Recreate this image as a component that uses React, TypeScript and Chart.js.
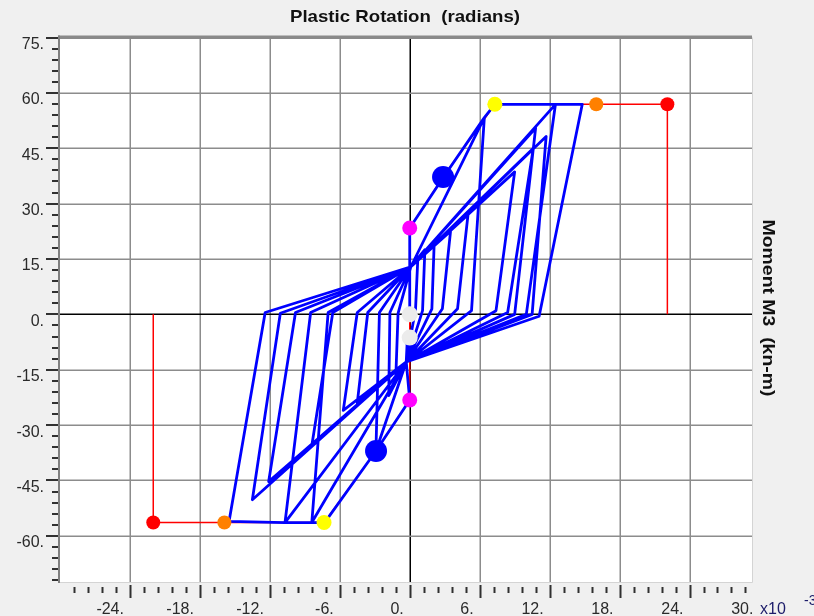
import { useEffect, useRef } from "react";
import { Chart, registerables } from "chart.js";

Chart.register(...registerables);

// ---- axis tick labels ----
const xTickValues = [-24, -18, -12, -6, 0, 6, 12, 18, 24, 30];
const xTickLabels = ["-24.", "-18.", "-12.", "-6.", "0.", "6.", "12.", "18.", "24.", "30."];
const yTickValues = [75, 60, 45, 30, 15, 0, -15, -30, -45, -60];
const yTickLabels = ["75.", "60.", "45.", "30.", "15.", "0.", "-15.", "-30.", "-45.", "-60."];

// ---- hysteresis (rotation x10^-3 rad, moment kN-m) ----
const upperPivot = [0.1, 12.9];
const lowerPivot = [-0.3, -12.9];

const cycle1 = [[0, 0], [0, 23.4], [2.9, 37.2], [6.4, 53.3], [5.3, 1.0], lowerPivot, [0, -23.2], [-2.9, -37.0], [-2.6, 0.5]];
const cycle2 = [upperPivot, [3.5, 22.5], [2.8, 1.5], lowerPivot, [-1.8, -22.0], [-1.7, 0.5]];
const cycle3 = [upperPivot, [2.1, 19.5], [1.9, 1.5], lowerPivot, [-4.5, -24.0], [-3.6, 0.5]];
const cycle4 = [upperPivot, [6.4, 53.3], [7.3, 56.9], [12.5, 56.9], [10.0, 0], lowerPivot, [-2.9, -37.0], [-7.3, -56.4], [-10.7, -56.4], [-8.5, 0.5]];
const cycle5 = [upperPivot, [5.0, 27.0], [4.1, 1.5], lowerPivot, [-5.7, -26.0], [-4.5, 0.5]];
const cycle6 = [upperPivot, [9.0, 38.6], [7.4, 1.0], lowerPivot, [-8.4, -35.5], [-6.6, 0.5]];
const cycle7 = [upperPivot, [12.5, 56.9], [14.8, 56.9], [11.1, -0.5], lowerPivot, [-10.7, -56.4], [-15.5, -56.1], [-12.4, 0.5]];
const cycle8 = [upperPivot, [11.7, 48.2], [10.5, 0], lowerPivot, [-13.5, -50.2], [-11.1, 0.3]];
const cycle9 = [upperPivot, [10.6, 45.0], [8.4, 0.5], lowerPivot, [-12.1, -45.3], [-9.8, 0.5]];
const cycle10 = [upperPivot, [10.8, 50.5], [9.0, 0], lowerPivot, [-8.4, -56.4], [-7.0, 0.5]];
const cycle11 = [upperPivot, [1.3, 17.5], [1.1, 1.0], lowerPivot, [-1.2, -17.5], [-1.0, 0.3]];
const cycle12 = [upperPivot, [0.7, 15.5], [0.5, 1.5], lowerPivot, [-0.2, -6.3]];
const cycles = [cycle1, cycle2, cycle3, cycle4, cycle5, cycle6, cycle7, cycle8, cycle9, cycle10, cycle11, cycle12];

// ---- backbone (hinge definition) ----
const backbonePosRot = [0, 0, 2.86, 7.3, 16.0, 22.1, 22.1];
const backbonePosMom = [0, 23.4, 37.2, 56.9, 56.9, 56.9, 0];
const backboneNegRot = [0, 0, -2.89, -7.35, -15.9, -22.0, -22.0];
const backboneNegMom = [0, -23.2, -37.0, -56.4, -56.4, -56.4, 0];

// ---- hinge state points ----
const markerRot = [22.1, -22.0, 16.0, -15.9, 7.3, -7.35, 2.86, -2.89, 0, 0, 0, 0];
const markerMom = [56.9, -56.4, 56.9, -56.4, 56.9, -56.4, 37.2, -37.0, 23.4, -23.2, 0, -6.3];
const markerColors = ["#ff0000", "#ff0000", "#ff8000", "#ff8000", "#ffff00", "#ffff00", "#0000ff", "#0000ff", "#ff00ff", "#ff00ff", "#ebebeb", "#ebebeb"];
const markerRadius = [7, 7, 7, 7, 7.5, 7.5, 11, 11, 7.5, 7.5, 8, 8];

const FONT = "'Liberation Sans', Arial, sans-serif";

function fitText(ctx: CanvasRenderingContext2D, text: string, x: number, y: number, w: number, rot = 0) {
  const m = ctx.measureText(text).width;
  ctx.save();
  ctx.translate(x, y);
  if (rot) ctx.rotate(rot);
  ctx.scale(w / m, 1);
  ctx.fillText(text, 0, 0);
  ctx.restore();
}

const axesPlugin = {
  id: "sapAxes",
  beforeDraw(chart: any) {
    const { ctx, chartArea: a } = chart;
    ctx.save();
    ctx.fillStyle = "#f0f0f0";
    ctx.fillRect(0, 0, chart.width, chart.height);
    ctx.fillStyle = "#ffffff";
    ctx.fillRect(a.left, a.top, a.right - a.left, a.bottom - a.top);
    ctx.restore();
  },
  beforeDatasetsDraw(chart: any) {
    const { ctx, chartArea: a, scales } = chart;
    const xs = scales.x;
    const ys = scales.y;
    ctx.save();
    ctx.lineWidth = 1.5;
    for (let v = -24; v <= 24; v += 6) {
      const px = Math.round(xs.getPixelForValue(v)) + 0.25;
      ctx.strokeStyle = v === 0 ? "#000000" : "#8c8c8c";
      ctx.beginPath();
      ctx.moveTo(px, a.top);
      ctx.lineTo(px, a.bottom);
      ctx.stroke();
    }
    for (let v = -60; v <= 60; v += 15) {
      const py = Math.round(ys.getPixelForValue(v)) + 0.25;
      ctx.strokeStyle = v === 0 ? "#000000" : "#8c8c8c";
      ctx.beginPath();
      ctx.moveTo(a.left, py);
      ctx.lineTo(a.right, py);
      ctx.stroke();
    }
    ctx.strokeStyle = "#d4d4d4";
    ctx.lineWidth = 1;
    ctx.beginPath();
    ctx.moveTo(a.right + 0.5, a.top);
    ctx.lineTo(a.right + 0.5, a.bottom + 0.5);
    ctx.lineTo(a.left, a.bottom + 0.5);
    ctx.stroke();
    ctx.fillStyle = "#8a8a8a";
    ctx.fillRect(a.left - 2, a.top - 2, a.right - a.left + 2, 3.5);
    ctx.fillStyle = "#808080";
    ctx.fillRect(a.left - 2, a.top - 2, 2, a.bottom - a.top + 3);
    ctx.restore();
  },
  afterDraw(chart: any) {
    const { ctx, chartArea: a, scales } = chart;
    const xs = scales.x;
    const ys = scales.y;
    ctx.save();
    ctx.strokeStyle = "#303030";
    ctx.lineWidth = 2;
    for (let v = -72; v <= 75; v += 3) {
      const py = Math.round(ys.getPixelForValue(v));
      const major = v % 15 === 0;
      ctx.beginPath();
      ctx.moveTo(major ? a.left - 14 : a.left - 8, py);
      ctx.lineTo(a.left - 2, py);
      ctx.stroke();
    }
    for (let k = -24; k <= 24; k++) {
      const v = k * 1.2;
      const px = Math.round(xs.getPixelForValue(v)) + 0.5;
      const major = k % 5 === 0;
      ctx.beginPath();
      ctx.moveTo(px, a.bottom + (major ? 3 : 5));
      ctx.lineTo(px, a.bottom + (major ? 16 : 11));
      ctx.stroke();
    }
    ctx.fillStyle = "#2a2a2a";
    ctx.font = `16px ${FONT}`;
    ctx.textBaseline = "middle";
    ctx.textAlign = "right";
    yTickValues.forEach((v, i) => {
      ctx.fillText(yTickLabels[i], a.left - 16, ys.getPixelForValue(v) + 7);
    });
    xTickValues.forEach((v, i) => {
      ctx.fillText(xTickLabels[i], xs.getPixelForValue(v) - 6, a.bottom + 28);
    });
    ctx.textAlign = "left";
    ctx.fillStyle = "#1c1c6a";
    ctx.fillText("x10", 760, a.bottom + 28);
    ctx.font = `14px ${FONT}`;
    ctx.fillText("-3", 804, a.bottom + 19);
    ctx.fillStyle = "#111111";
    ctx.font = `bold 17px ${FONT}`;
    ctx.textAlign = "center";
    fitText(ctx, "Plastic Rotation  (radians)", 405, 17, 230);
    fitText(ctx, "Moment M3  (kn-m)", 768, 308, 177, Math.PI / 2);
    ctx.restore();
  },
};

function toPoints(xs: number[], ys: number[]) {
  return xs.map((x, i) => ({ x, y: ys[i] }));
}

export default function App() {
  const ref = useRef<HTMLCanvasElement>(null);
  useEffect(() => {
    document.body.style.margin = "0";
    const canvas = ref.current!;
    const path: { x: number; y: number }[] = [];
    cycles.forEach((c) => c.forEach((p) => path.push({ x: p[0], y: p[1] })));
    const chart = new Chart(canvas, {
      type: "scatter",
      data: {
        datasets: [
          {
            label: "points",
            data: toPoints(markerRot, markerMom),
            pointBackgroundColor: markerColors,
            pointBorderWidth: 0,
            pointBorderColor: "rgba(0,0,0,0)",
            pointRadius: markerRadius,
            showLine: false,
            order: 0,
          } as any,
          {
            label: "hysteresis",
            data: path,
            showLine: true,
            borderColor: "#0000ff",
            borderWidth: 2.8,
            borderJoinStyle: "round",
            borderCapStyle: "round",
            pointRadius: 0,
            tension: 0,
            order: 1,
          } as any,
          {
            label: "backbone+",
            data: toPoints(backbonePosRot, backbonePosMom),
            showLine: true,
            borderColor: "#ff0000",
            borderWidth: 1.5,
            pointRadius: 0,
            order: 2,
          } as any,
          {
            label: "backbone-",
            data: toPoints(backboneNegRot, backboneNegMom),
            showLine: true,
            borderColor: "#ff0000",
            borderWidth: 1.5,
            pointRadius: 0,
            order: 2,
          } as any,
        ],
      },
      options: {
        animation: false,
        responsive: false,
        events: [],
        layout: { padding: { left: 60, right: 62, top: 37.5, bottom: 34 } },
        scales: {
          x: { type: "linear", min: -30, max: 29.36, display: false },
          y: { type: "linear", min: -72.5, max: 75, display: false },
        },
        plugins: { legend: { display: false }, tooltip: { enabled: false } },
      },
      plugins: [axesPlugin],
    });
    return () => chart.destroy();
  }, []);
  return <canvas ref={ref} width={814} height={616} style={{ display: "block", width: 814, height: 616 }} />;
}
